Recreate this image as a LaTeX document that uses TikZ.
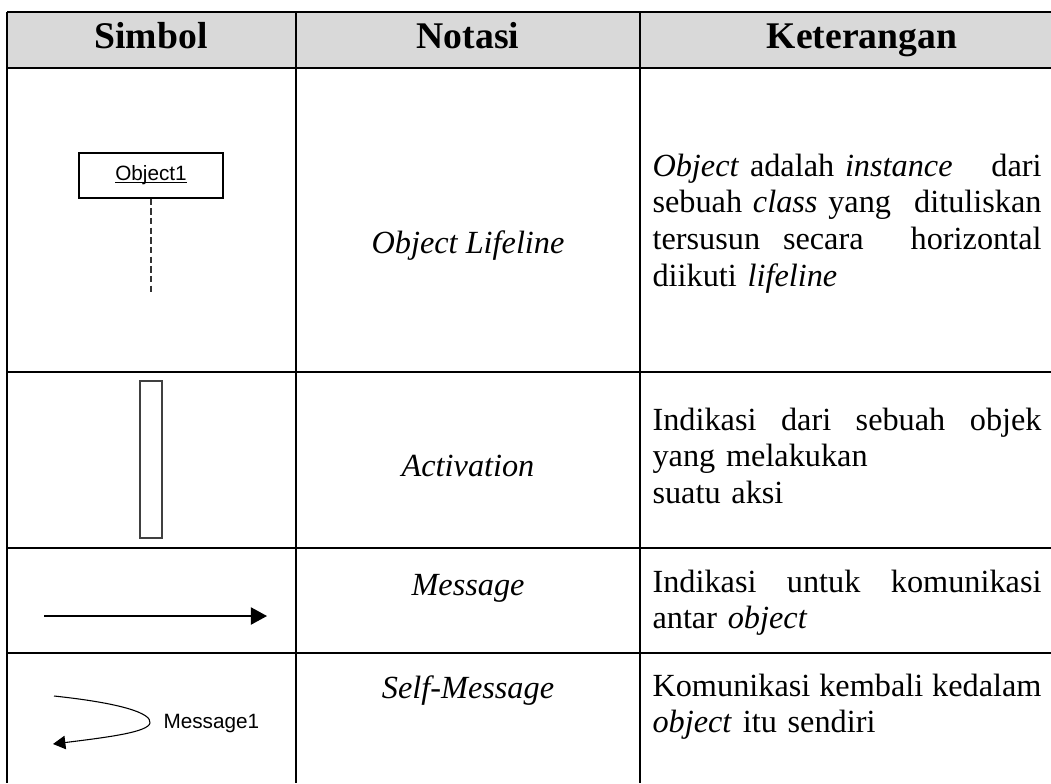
\documentclass[tikz,border=0pt]{standalone}
\usepackage{fontspec}
\setmainfont{Liberation Serif}
\newfontfamily\arialfont{Liberation Sans}
\usetikzlibrary{arrows.meta}
\newlength\colw
\setlength\colw{144.6pt}
% a line spread over the full description column
\newcommand\fline[1]{\makebox[\colw]{#1}}
% underline sitting just under the baseline
\newcommand\objul[1]{\setbox0\hbox{#1}\rlap{\rule[-0.9pt]{\wd0}{0.35pt}}\box0}

\begin{document}
\begin{tikzpicture}[x=0.3717pt,y=-0.3717pt,
  grid/.style={line width=0.75pt},
  head/.style={font=\fontsize{14}{16}\selectfont\bfseries, anchor=base, inner sep=0},
  notasi/.style={font=\fontsize{12}{13.64}\selectfont\itshape, anchor=base, inner sep=0},
  desc/.style={font=\fontsize{12}{13.64}\selectfont, anchor=base west, inner sep=0,
               text width=\colw, align=left},
  uml/.style={font=\arialfont\fontsize{7.7}{9}\selectfont},
  objbox/.style={draw, line width=0.4pt, minimum width=144*0.3717pt,
                 minimum height=45*0.3717pt, inner sep=0, uml},
  actbox/.style={draw=black!75, line width=0.4pt},
]
\useasboundingbox (0,0) rectangle (1051,783);

% header band
\fill[black!15] (7,12) rectangle (1051,68);

% table rules
\draw[grid] (7,12) -- (1051,12);
\draw[grid] (7,68) -- (1051,68);
\draw[grid] (7,372) -- (1051,372);
\draw[grid] (7,548) -- (1051,548);
\draw[grid] (7,653) -- (1051,653);
\draw[grid] (7,12) -- (7,783);
\draw[grid] (296,12) -- (296,783);
\draw[grid] (640,12) -- (640,783);

% header
\node[head] (hsym) at (151,48) {Simbol};
\node[head] (hnot) at (468,48) {Notasi};
\node[head] (hket) at (862,48) {Keterangan};

% row 1: object lifeline
\node[objbox] (obj) at (151,175.5) {\objul{Object1}};
\coordinate (lifeend) at (151,295);
\draw[line width=0.5pt, black!80, dash pattern=on 2.4pt off 1.2pt] (obj.south) -- (lifeend);
\node[notasi] (n1) at (468,253) {Object Lifeline};
\node[desc] (d1) at (652,176) {%
  \fline{\textit{Object} adalah \textit{instance}\hfill dari}\\
  \fline{sebuah \textit{class} yang\hfill dituliskan}\\
  \fline{tersusun\hspace{8.5pt}secara\hfill horizontal}\\
  diikuti \textit{lifeline}};

% row 2: activation
\node[actbox, minimum width=22*0.3717pt, minimum height=157*0.3717pt, inner sep=0] (act) at (151,459.5) {};
\node[notasi] (n2) at (468,476) {Activation};
\node[desc] (d2) at (652,430) {%
  \fline{Indikasi\hfill dari\hfill sebuah\hfill objek}\\
  yang melakukan\\
  suatu aksi};

% row 3: message
\coordinate (msgA) at (44,616);
\coordinate (msgB) at (267,616);
\draw[line width=0.6pt, -{Triangle[length=6pt,width=6.4pt]}] (msgA) -- (msgB);
\node[notasi] (n3) at (468,595) {Message};
\node[desc] (d3) at (652,592) {%
  \fline{Indikasi\hfill untuk\hfill komunikasi}\\
  antar \textit{object}};

% row 4: self-message
\coordinate (selfA) at (54,696);
\coordinate (selfB) at (53,744);
\draw[line width=0.4pt, -{Triangle[length=4.6pt,width=5pt]}]
  (selfA) .. controls (120,703) and (152,713) .. (150,723)
          .. controls (148,732) and (110,737) .. (selfB);
\node[uml, anchor=base west, inner sep=0] (selflbl) at (163,728) {Message1};
\node[notasi] (n4) at (468,698) {Self-Message};
\node[desc] (d4) at (652,696) {%
  \fline{Komunikasi\hfill kembali\hfill kedalam}\\
  \textit{object} itu sendiri};
\end{tikzpicture}
\end{document}
